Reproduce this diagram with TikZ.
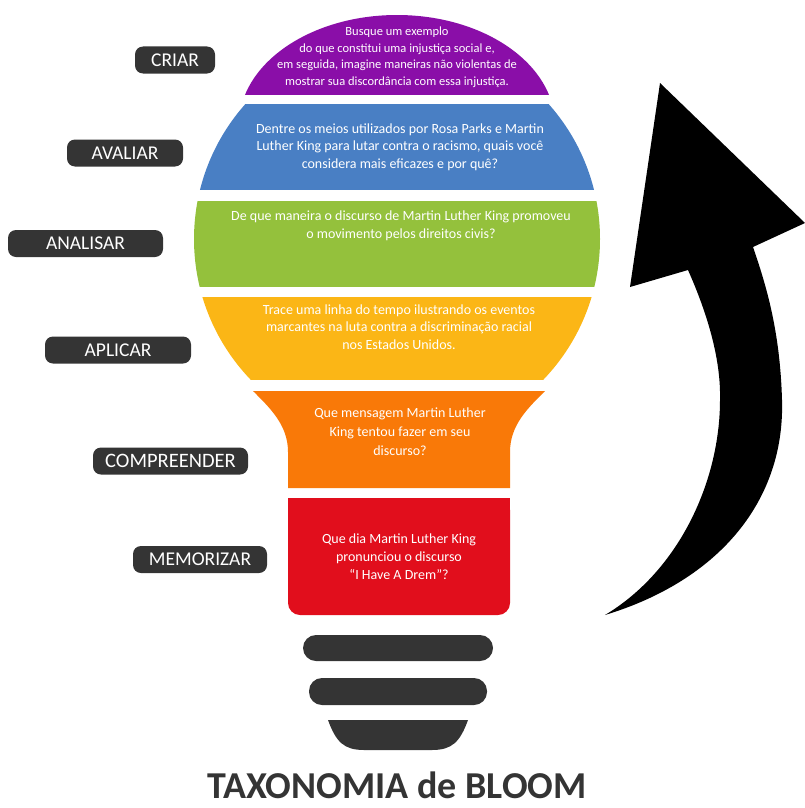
\documentclass[tikz,border=0pt]{standalone}
\usepackage{fontspec}
\setmainfont{Carlito}
\usepackage{tikz}
\usetikzlibrary{positioning}
\definecolor{bloompurple}{RGB}{138,14,168}
\definecolor{bloomblue}{RGB}{73,127,196}
\definecolor{bloomgreen}{RGB}{148,193,60}
\definecolor{bloomyellow}{RGB}{251,182,22}
\definecolor{bloomorange}{RGB}{249,121,8}
\definecolor{bloomred}{RGB}{225,14,28}
\definecolor{bloomgray}{RGB}{52,52,52}

\begin{document}
\begin{tikzpicture}[x=1pt, y=-1pt,
    lvlbox/.style={fill=bloomgray, text=white, rounded corners=8pt, minimum height=27pt, inner sep=0pt, font=\fontsize{19.5}{20}\selectfont},
    askbox/.style={text=white, align=center, inner sep=0pt, font=\fontsize{14}{17.5}\selectfont}]
    \useasboundingbox (0,0) rectangle (805,808);

    % bulb
    \begin{scope}
        \clip (397,125) ellipse (158pt and 110pt);
        \fill[bloompurple] (0,15) rectangle (805,95);
    \end{scope}
    \begin{scope}
        \clip (397,239) circle (203pt);
        \fill[bloomblue] (0,104) rectangle (805,190);
        \fill[bloomgreen] (0,201) rectangle (805,287);
        \fill[bloomyellow] (0,297) rectangle (805,380);
    \end{scope}
    \fill[bloomorange] (253,391) -- (545,391) .. controls (528,408) and (510,425) .. (510,452) -- (510,488) -- (288,488) -- (288,452) .. controls (288,425) and (270,408) .. (253,391) -- cycle;
    \fill[bloomred, rounded corners=12pt] (288,498) rectangle (510,615);
    \fill[bloomred] (288,498) rectangle (510,540);

    % base
    \fill[bloomgray, rounded corners=13pt] (303,635) rectangle (493,661);
    \fill[bloomgray, rounded corners=13pt] (309,678) rectangle (487,705);
    \fill[bloomgray] (328,720) -- (468,720) .. controls (460,742) and (452,750) .. (432,750) -- (364,750) .. controls (344,750) and (336,742) .. (328,720) -- cycle;

    % questions
    \node[askbox, font=\fontsize{12.5}{16.5}\selectfont] (qcriar) at (397,57) {Busque um exemplo\\do que constitui uma injustiça social e,\\em seguida, imagine maneiras não violentas de\\mostrar sua discordância com essa injustiça.};
    \node[askbox] (qavaliar) at (400,147) {Dentre os meios utilizados por Rosa Parks e Martin\\Luther King para lutar contra o racismo, quais você\\considera mais eficazes e por quê?};
    \node[askbox] (qanalisar) at (401,226) {De que maneira o discurso de Martin Luther King promoveu\\o movimento pelos direitos civis?};
    \node[askbox] (qaplicar) at (399,327) {Trace uma linha do tempo ilustrando os eventos\\marcantes na luta contra a discriminação racial\\nos Estados Unidos.};
    \node[askbox, font=\fontsize{14}{19}\selectfont] (qcompreender) at (400,432) {Que mensagem Martin Luther\\King tentou fazer em seu\\discurso?};
    \node[askbox, font=\fontsize{14}{18}\selectfont] (qmemorizar) at (399,557) {Que dia Martin Luther King\\pronunciou o discurso\\“I Have A Drem”?};

    % levels
    \node[lvlbox, minimum width=80pt] (criar) at (175,60) {CRIAR};
    \node[lvlbox, minimum width=116pt] (avaliar) at (125,153) {AVALIAR};
    \node[lvlbox, minimum width=155pt] (analisar) at (85.5,243.5) {ANALISAR};
    \node[lvlbox, minimum width=146pt] (aplicar) at (118,350) {APLICAR};
    \node[lvlbox, minimum width=155pt, font=\fontsize{20.5}{21}\selectfont] (compreender) at (170.5,461) {COMPREENDER};
    \node[lvlbox, minimum width=134pt] (memorizar) at (200,559.5) {MEMORIZAR};

    % arrow
    \fill[black] (605,615) .. controls (720,580) and (785,500) .. (782,400) .. controls (780,330) and (766,285) .. (753,247) -- (805,223) -- (660,83) -- (630,287) -- (688,270) .. controls (708,315) and (721,360) .. (720,400) .. controls (720,480) and (680,570) .. (605,615) -- cycle;

    \node[anchor=base, inner sep=0pt, text=bloomgray, font=\fontsize{38}{40}\selectfont\bfseries] (title) at (397,798) {TAXONOMIA de BLOOM};
\end{tikzpicture}
\end{document}
